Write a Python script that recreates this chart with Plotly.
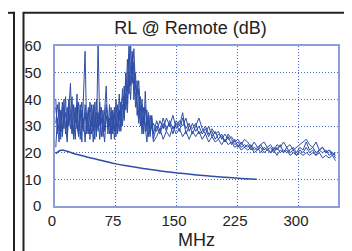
import plotly.graph_objects as go

# ---- data ----
freq = [1, 3, 5, 7, 9, 11, 13, 15, 17, 19, 21, 23, 25, 27, 29, 31, 33, 35, 37, 39,
        41, 43, 45, 47, 49, 51, 53, 55, 57, 59, 61, 63, 65, 67, 69, 71, 73, 75, 77, 79,
        81, 83, 85, 87, 89, 91, 93, 95, 97, 99, 101, 103, 105, 107, 109, 111, 113, 115, 117, 119, 121,
        125, 129, 133, 137, 141, 145, 149, 153, 157, 161, 165, 169, 173, 177, 181, 185, 189, 193, 197,
        201, 205, 209, 213, 217, 221, 225, 229, 233, 237, 241, 245, 249, 253, 257, 261, 265, 269, 273,
        277, 281, 285, 289, 293, 297, 301, 305, 309, 313, 317, 321, 325, 329, 333, 337, 341, 345]

pair_a = [40, 27, 39, 25, 37, 29, 41, 26, 36, 46, 28, 38, 25, 42, 27, 38, 24, 40, 58, 27,
          36, 25, 38, 28, 39, 26, 62, 30, 37, 26, 35, 45, 27, 38, 25, 36, 28, 40, 27, 42,
          30, 44, 33, 50, 38, 62, 45, 58, 40, 50, 34, 44, 30, 40, 27, 43, 28, 35, 26, 33, 25,
          30, 27, 31, 28, 32, 29, 31, 28, 33, 29, 31, 27, 30, 33, 29, 27, 30, 26, 28,
          25, 27, 24, 26, 23, 25, 22, 24, 22, 23, 21, 22, 21, 23, 21, 22, 20, 22, 21,
          23, 20, 22, 20, 21, 19, 21, 20, 22, 20, 21, 19, 21, 20, 21, 19, 20, 18]

pair_b = [37, 31, 24, 36, 28, 40, 27, 37, 30, 35, 41, 26, 37, 29, 39, 25, 36, 28, 38, 31,
          27, 39, 30, 36, 25, 40, 29, 37, 26, 34, 28, 38, 31, 27, 37, 29, 35, 26, 38, 32,
          39, 30, 45, 36, 55, 42, 61, 46, 54, 37, 47, 33, 41, 29, 37, 28, 36, 26, 34, 29, 31,
          28, 32, 29, 33, 30, 34, 29, 32, 30, 33, 28, 31, 28, 30, 27, 29, 26, 29, 27,
          28, 25, 27, 25, 26, 24, 25, 23, 25, 24, 22, 24, 22, 23, 24, 22, 23, 21, 23,
          22, 24, 22, 23, 21, 22, 23, 24, 25, 23, 22, 24, 21, 22, 20, 21, 19, 20]

pair_c = [22, 33, 28, 35, 26, 34, 30, 24, 37, 29, 33, 25, 35, 30, 26, 36, 29, 33, 24, 35,
          30, 27, 34, 24, 32, 29, 35, 25, 33, 30, 24, 34, 29, 33, 27, 35, 25, 32, 29, 36,
          28, 38, 32, 42, 35, 50, 40, 56, 44, 42, 38, 31, 37, 27, 34, 30, 24, 32, 27, 31, 24,
          26, 29, 25, 28, 26, 30, 27, 29, 26, 28, 25, 28, 26, 28, 25, 27, 24, 26, 24,
          25, 23, 25, 23, 24, 22, 23, 21, 22, 21, 22, 20, 21, 22, 20, 21, 20, 21, 19,
          21, 20, 21, 19, 20, 19, 20, 19, 20, 19, 20, 19, 20, 18, 19, 18, 19, 17]

pair_d = [31, 38, 33, 28, 39, 31, 35, 29, 40, 32, 27, 37, 31, 38, 28, 33, 39, 30, 35, 28,
          37, 32, 27, 38, 31, 35, 28, 39, 31, 36, 29, 37, 33, 30, 35, 27, 37, 31, 35, 28,
          37, 41, 37, 47, 43, 57, 51, 49, 59, 44, 42, 47, 35, 38, 31, 37, 30, 34, 28, 34, 27,
          32, 28, 33, 29, 31, 27, 32, 30, 35, 27, 30, 29, 31, 27, 28, 30, 27, 28, 25,
          27, 26, 24, 27, 25, 23, 24, 22, 23, 22, 23, 21, 22, 20, 22, 21, 22, 20, 22,
          20, 21, 20, 21, 22, 20, 22, 21, 24, 21, 22, 20, 21, 22, 20, 21, 20, 19]

limit_freq = [1, 4, 7, 10, 15, 20, 30, 40, 50, 60, 75, 90, 110, 130, 150, 175, 200, 225, 248]
limit_db = [19.6, 20.4, 20.9, 20.9, 20.5, 20.0, 19.1, 18.3, 17.6, 16.9, 15.8, 15.0, 14.0, 13.1,
            12.4, 11.6, 11.0, 10.4, 10.0]

x_ticks = [0, 75, 150, 225, 300]
y_ticks = [0, 10, 20, 30, 40, 50, 60]

series = [pair_a, pair_b, pair_c, pair_d]

LINE = "#2f4ea6"
GRID = "#4a66c8"
BORDER = "#8c9ddb"
FONT = "Liberation Sans, Arial, sans-serif"

fig = go.Figure()
for s in series:
    fig.add_trace(go.Scatter(x=freq, y=s, mode="lines",
                             line=dict(color=LINE, width=1), showlegend=False))
fig.add_trace(go.Scatter(x=limit_freq, y=limit_db, mode="lines",
                         line=dict(color=LINE, width=1.5, shape="spline"), showlegend=False))

# frame lines (pixel positions converted to paper coords)
L, R, T, B = 47, 330, 38, 202
def px(x):
    return (x - L) / (R - L)
def py(y):
    return (B - y) / (B - T)

frame = dict(color="#222222", width=2)
shapes = [
    dict(type="line", xref="paper", yref="paper", x0=px(6), x1=px(6), y0=py(3), y1=py(260), line=frame),
    dict(type="line", xref="paper", yref="paper", x0=px(-5), x1=px(6), y0=py(4), y1=py(4), line=frame),
    dict(type="line", xref="paper", yref="paper", x0=px(15.5), x1=px(15.5), y0=py(3), y1=py(260), line=frame),
    dict(type="line", xref="paper", yref="paper", x0=px(15.5), x1=px(351), y0=py(4), y1=py(4), line=frame),
    dict(type="line", xref="paper", yref="paper", x0=px(350.5), x1=px(350.5), y0=py(3), y1=py(260), line=frame),
]

fig.update_layout(
    width=352, height=251,
    margin=dict(l=L, r=352 - R, t=T, b=251 - B),
    paper_bgcolor="white", plot_bgcolor="white",
    font=dict(family=FONT, size=15, color="#222222"),
    title=dict(text="RL @ Remote (dB)", x=182.5 / 352, xanchor="center",
               y=1 - 20 / 251, yanchor="middle", font=dict(size=18, color="#222222")),
    shapes=shapes,
    xaxis=dict(range=[0, 348], tickvals=x_ticks, showgrid=True,
               gridcolor=GRID, griddash="1px,2px", gridwidth=1, zeroline=False,
               showline=True, linecolor=BORDER, linewidth=1.5, mirror=True,
               ticks="", tickfont=dict(size=15), ticklabelshift=-3,
               title=dict(text="MHz", font=dict(size=18), standoff=6)),
    yaxis=dict(range=[0, 60], tickvals=y_ticks, showgrid=True,
               gridcolor=GRID, griddash="1px,2px", gridwidth=1, zeroline=False,
               showline=True, linecolor=BORDER, linewidth=1.5, mirror=True,
               ticks="", tickfont=dict(size=15), ticklabelstandoff=9),
)

fig.write_html("out.html")
